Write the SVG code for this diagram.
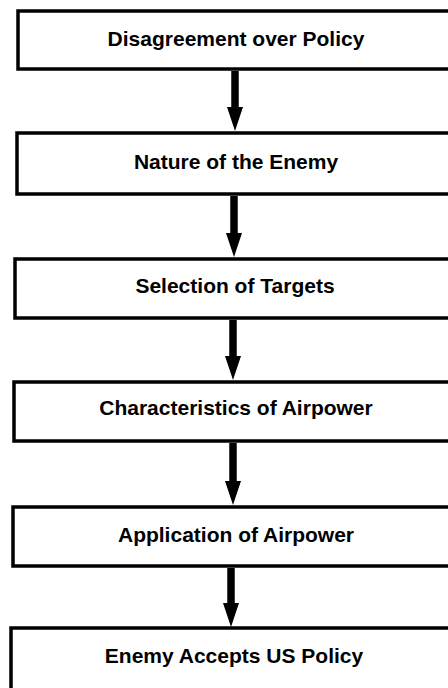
<svg xmlns="http://www.w3.org/2000/svg" width="448" height="688" viewBox="0 0 448 688">
<style>
.box{fill:#fff;stroke:#000;stroke-width:3.5}
.lbl{font-family:"Liberation Sans",Arial,sans-serif;font-weight:bold;font-size:21px;fill:#000;text-anchor:middle}
.shaft{stroke:#000;stroke-width:7.5;fill:none}
.head{fill:#000}
</style>
<rect width="448" height="688" fill="#fff"/>
<g id="n1"><rect class="box" x="18" y="11" width="440" height="58"/><text class="lbl" x="236" y="46">Disagreement over Policy</text></g>
<g id="n2"><rect class="box" x="17" y="133" width="440" height="61"/><text class="lbl" x="236" y="169">Nature of the Enemy</text></g>
<g id="n3"><rect class="box" x="15" y="259" width="440" height="59"/><text class="lbl" x="235" y="293">Selection of Targets</text></g>
<g id="n4"><rect class="box" x="14" y="382" width="440" height="59"/><text class="lbl" x="236" y="415">Characteristics of Airpower</text></g>
<g id="n5"><rect class="box" x="13" y="507" width="440" height="59"/><text class="lbl" x="236" y="542">Application of Airpower</text></g>
<g id="n6"><rect class="box" x="11" y="628" width="440" height="80"/><text class="lbl" x="234" y="663">Enemy Accepts US Policy</text></g>
<g id="connectors">
<line class="shaft" x1="235" y1="71" x2="235" y2="110"/><polygon class="head" points="227,107 243,107 235,131"/>
<line class="shaft" x1="234" y1="196" x2="234" y2="236"/><polygon class="head" points="226,233 242,233 234,257"/>
<line class="shaft" x1="233" y1="320" x2="233" y2="359"/><polygon class="head" points="225,356 241,356 233,380"/>
<line class="shaft" x1="233" y1="443" x2="233" y2="484"/><polygon class="head" points="225,481 241,481 233,505"/>
<line class="shaft" x1="231" y1="568" x2="231" y2="606"/><polygon class="head" points="223,603 239,603 231,627"/>
</g>
</svg>
